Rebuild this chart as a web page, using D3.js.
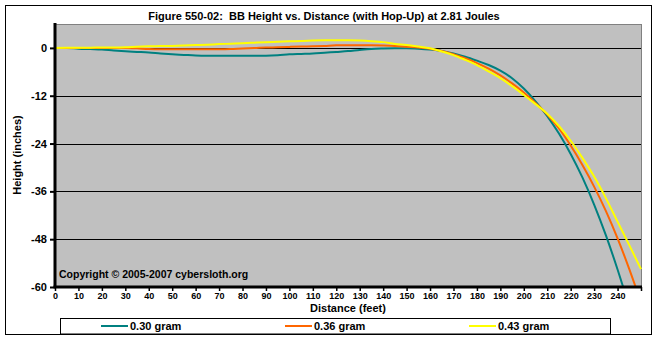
<!DOCTYPE html>
<html><head><meta charset="utf-8">
<script src="https://cdn.jsdelivr.net/npm/d3@7"></script>
<style>
body{margin:0;background:#fff}
svg{display:block}
text{font-family:Arial,"Liberation Sans",sans-serif;font-weight:bold;fill:#000}
</style>
</head><body>
<svg id="c" width="657" height="340"></svg>
<script>
// ---- data (distance in feet, height in inches) ----
const distance = [0,5,10,15,20,25,30,35,40,45,50,55,60,65,70,75,80,85,90,95,100,105,110,115,120,125,130,135,140,145,150,155,160,165,170,175,180,185,190,195,200,205,210,215,220,225,230,235,240,245,250];
const gram030 = [0,0,-0.2,-0.3,-0.4,-0.65,-0.85,-1.0,-1.15,-1.4,-1.6,-1.75,-1.9,-1.95,-1.95,-1.95,-1.95,-1.95,-1.95,-1.85,-1.6,-1.5,-1.4,-1.2,-1.0,-0.8,-0.5,-0.25,-0.15,-0.1,-0.1,-0.2,-0.4,-0.75,-1.4,-2.2,-3.2,-4.3,-5.7,-7.6,-10.2,-13.4,-17.1,-21.5,-26.6,-32.5,-39.3,-47.0,-55.6,-65.0,null];
const gram036 = [0,0,0,0,0,0,0,-0.1,-0.3,-0.35,-0.35,-0.35,-0.35,-0.35,-0.35,-0.3,-0.15,-0.05,0.1,0.15,0.25,0.35,0.4,0.5,0.65,0.65,0.65,0.65,0.6,0.5,0.3,0.1,-0.2,-0.8,-1.6,-2.6,-3.8,-5.2,-6.9,-8.9,-11.2,-13.8,-16.7,-20.2,-24.5,-29.4,-34.8,-40.9,-47.8,-55.5,-63.9];
const gram043 = [0,0.05,0.05,0.05,0.1,0.1,0.15,0.3,0.4,0.45,0.5,0.6,0.7,0.8,0.95,1.05,1.15,1.3,1.45,1.55,1.65,1.75,1.85,1.9,1.9,1.9,1.85,1.7,1.45,1.0,0.75,0.35,-0.1,-0.9,-1.8,-3.0,-4.3,-5.9,-7.6,-9.6,-11.8,-14.1,-16.5,-19.6,-23.3,-27.6,-32.3,-37.7,-43.6,-49.5,-55.5];
const seriesNames = ["0.30 gram","0.36 gram","0.43 gram"];
const seriesColors = ["#008080","#FF6600","#FFFF00"];
const yTicks = [0,-12,-24,-36,-48,-60];
const xTickLabels = [0,10,20,30,40,50,60,70,80,90,100,110,120,130,140,150,160,170,180,190,200,210,220,230,240];
const xTickMarks = xTickLabels.concat([250]);
const titleText = "Figure 550-02:  BB Height vs. Distance (with Hop-Up) at 2.81 Joules";

const seriesValues = [gram030, gram036, gram043];

const svg = d3.select("#c");
const W = 657, H = 340;
const L = 55, R = 641, T = 24, B = 287;

svg.append("rect").attr("x",0).attr("y",0).attr("width",W).attr("height",H).attr("fill","#fff");
svg.append("rect").attr("x",5.5).attr("y",5.5).attr("width",646).attr("height",329)
  .attr("fill","#fff").attr("stroke","#000").attr("stroke-width",1);

const x = d3.scaleLinear().domain([0,250]).range([L,R]);
const y = d3.scaleLinear().domain([-60,6]).range([B,T]);

// plot area
svg.append("rect").attr("x",L).attr("y",T+0.5).attr("width",R-L+0.5).attr("height",B-T)
  .attr("fill","#C0C0C0").attr("stroke","#808080").attr("stroke-width",1);

// gridlines
svg.append("g").selectAll("line").data(yTicks.filter(d=>d>-60)).join("line")
  .attr("x1",L).attr("x2",R).attr("y1",d=>Math.round(y(d))+0.5).attr("y2",d=>Math.round(y(d))+0.5)
  .attr("stroke","#000").attr("stroke-width",1);

// clip
svg.append("clipPath").attr("id","plotclip").append("rect")
  .attr("x",L).attr("y",T).attr("width",R-L+1).attr("height",B-T);

const line = d3.line().defined(d=>d[1]!==null)
  .x(d=>x(d[0])).y(d=>y(d[1])).curve(d3.curveMonotoneX);

const gLines = svg.append("g").attr("clip-path","url(#plotclip)");
seriesValues.forEach((vals,i)=>{
  gLines.append("path")
    .attr("d", line(distance.map((d,j)=>[d, vals[j]])))
    .attr("fill","none").attr("stroke",seriesColors[i]).attr("stroke-width",2);
});

// axes
const yAxis = d3.axisLeft(y).tickValues(yTicks).tickSize(5).tickSizeOuter(0).tickPadding(3).tickFormat(d=>d);
const gy = svg.append("g").attr("transform",`translate(${L},0)`).call(yAxis);
gy.select(".domain").attr("stroke","#000").attr("stroke-width",3).attr("d",`M0,${T-1}V${B+1}`);
gy.selectAll(".tick line").attr("stroke","#000").attr("stroke-width",2);
gy.selectAll("text").style("font-size","11px").style("font-weight","bold").attr("fill","#000");
gy.attr("font-family",null).attr("font-size",null);

const xAxis = d3.axisBottom(x).tickValues(xTickMarks).tickSize(4).tickSizeOuter(0).tickPadding(2)
  .tickFormat(d=> xTickLabels.includes(d) ? d : "");
const gx = svg.append("g").attr("transform",`translate(0,${B})`).call(xAxis);
gx.select(".domain").attr("stroke","#000").attr("stroke-width",3).attr("d",`M${L-1.5},0H${R+1}`);
gx.selectAll(".tick line").attr("stroke","#000").attr("stroke-width",1.5);
gx.selectAll("text").style("font-size","9px").style("font-weight","bold").attr("fill","#000");
gx.attr("font-family",null).attr("font-size",null);

// title
svg.append("text").attr("x",324).attr("y",20).attr("text-anchor","middle")
  .style("font-size","11px").style("white-space","pre").text(titleText);

// axis titles
svg.append("text").attr("x",(L+R)/2).attr("y",312).attr("text-anchor","middle")
  .style("font-size","11px").text("Distance (feet)");
svg.append("text").attr("transform","translate(21,155) rotate(-90)").attr("text-anchor","middle")
  .style("font-size","11px").text("Height (inches)");

// copyright
svg.append("text").attr("x",59).attr("y",278).style("font-size","10.5px")
  .text("Copyright \u00A9 2005-2007 cybersloth.org");

// legend
svg.append("rect").attr("x",60.5).attr("y",318.5).attr("width",550).attr("height",15.5)
  .attr("fill","#fff").attr("stroke","#000").attr("stroke-width",1);
const legendX = [101,285,469];
seriesNames.forEach((n,i)=>{
  svg.append("line").attr("x1",legendX[i]).attr("x2",legendX[i]+27).attr("y1",326).attr("y2",326)
    .attr("stroke",seriesColors[i]).attr("stroke-width",2);
  svg.append("text").attr("x",legendX[i]+29).attr("y",330).style("font-size","11px").text(n);
});
</script>
</body></html>
